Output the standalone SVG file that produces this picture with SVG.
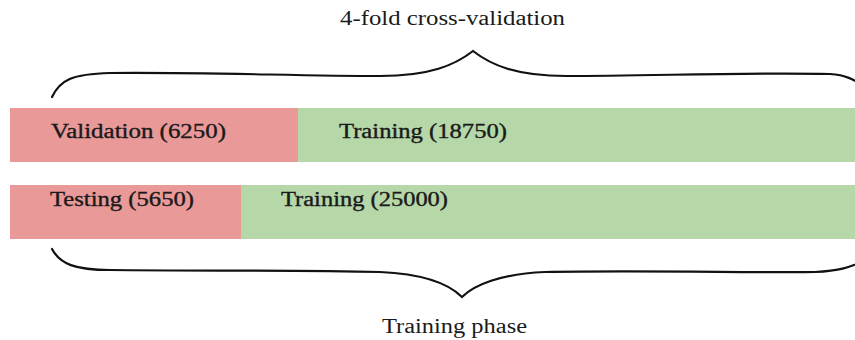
<svg xmlns="http://www.w3.org/2000/svg" width="855" height="340" viewBox="0 0 855 340">
<defs>
<style>
.lbl{font-family:'Liberation Serif','Times New Roman',Times,serif;font-size:20px;fill:#1a1a1a}
.bar{stroke:#1a1a1a;stroke-width:0.35}
.red{fill:#EA9999}
.green{fill:#B6D7A8}
.brace{fill:none;stroke:#111;stroke-width:2.2;stroke-linecap:round}
</style>
</defs>
<rect width="855" height="340" fill="#ffffff"/>
<text class="lbl" font-family="Liberation Serif" x="340" y="25" textLength="225" lengthAdjust="spacingAndGlyphs">4-fold cross-validation</text>
<g id="connectors">
<path class="brace" d="M52,97 C60,80 72,74 110,73 C200,72 300,76 380,76 C430,76 455,65 473,51 C491,65 516,76 566,76 C650,76 750,72 830,74 C845,75 852,78 870,90"/>
<path class="brace" d="M52,249 C60,264 75,270 110,270 C200,271 300,270 380,272 C425,274 450,285 462,297 C474,285 500,274 545,272 C640,270 760,273 815,272 C838,271 850,268 870,258"/>
</g>
<g id="row1-validation">
<rect class="red" x="10" y="108" width="288" height="54"/>
<text class="lbl bar" font-family="Liberation Serif" x="51" y="138" textLength="175" lengthAdjust="spacingAndGlyphs">Validation (6250)</text>
</g>
<g id="row1-training">
<rect class="green" x="298" y="108" width="557" height="54"/>
<text class="lbl bar" font-family="Liberation Serif" x="339" y="138" textLength="168" lengthAdjust="spacingAndGlyphs">Training (18750)</text>
</g>
<g id="row2-testing">
<rect class="red" x="10" y="185" width="231" height="54"/>
<text class="lbl bar" font-family="Liberation Serif" x="50" y="206" textLength="144" lengthAdjust="spacingAndGlyphs">Testing (5650)</text>
</g>
<g id="row2-training">
<rect class="green" x="241" y="185" width="614" height="54"/>
<text class="lbl bar" font-family="Liberation Serif" x="281" y="206" textLength="167" lengthAdjust="spacingAndGlyphs">Training (25000)</text>
</g>
<text class="lbl" font-family="Liberation Serif" x="382" y="333" textLength="145" lengthAdjust="spacingAndGlyphs">Training phase</text>
</svg>
